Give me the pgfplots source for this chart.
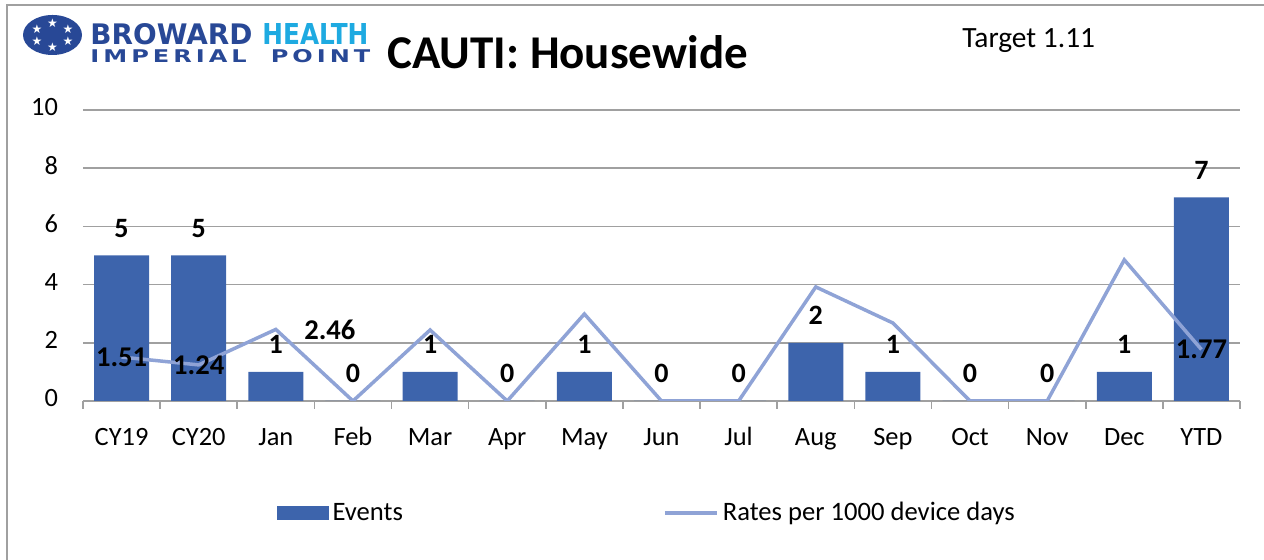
\documentclass[border=0pt]{standalone}
\usepackage{graphicx}
\usepackage{pgfplots}
\pgfplotsset{compat=1.18}
\usepackage{fontspec}
\setmainfont{Carlito}
\newfontfamily\dejavu{DejaVu Sans}
\definecolor{barblue}{RGB}{61,100,172}
\definecolor{lineblue}{RGB}{143,163,214}
\definecolor{logodark}{RGB}{40,72,150}
\definecolor{logolight}{RGB}{30,170,225}
\definecolor{gridgray}{RGB}{160,160,160}
\definecolor{framegray}{RGB}{160,160,160}

\begin{document}
\begin{tikzpicture}
\useasboundingbox (0,0) rectangle (632pt,280pt);
\draw[framegray, line width=1pt] (3.5pt,0pt) -- (3.5pt,277.5pt) -- (632pt,277.5pt);
% logo
\fill[logodark] (26.25pt,262.5pt) ellipse (14.75pt and 10pt);
\foreach \a in {30,90,...,330}
  \node[white, font=\dejavu\fontsize{6}{6}\selectfont, inner sep=0pt] at ([shift={(\a:9pt and 6pt)}]26.25pt,262.5pt) {★};
\node[anchor=south west, inner sep=0pt, text=logodark] at (45pt,257.5pt) {\resizebox{81pt}{10.5pt}{\dejavu\bfseries BROWARD}};
\node[anchor=south west, inner sep=0pt, text=logolight] at (131pt,257.5pt) {\resizebox{53pt}{10.5pt}{\dejavu\bfseries HEALTH}};
\node[anchor=south west, inner sep=0pt, text=logodark] at (45pt,248.5pt) {\resizebox{140pt}{6.5pt}{\dejavu\bfseries I\,M\,P\,E\,R\,I\,A\,L\quad P\,O\,I\,N\,T}};
% title
\node[anchor=base west, inner sep=0pt, font=\bfseries\fontsize{23.5}{28}\selectfont] at (193.5pt,245.5pt) {CAUTI: Housewide};
\node[anchor=base west, inner sep=0pt, font=\fontsize{14.7}{17}\selectfont] at (481pt,256pt) {Target 1.11};

\begin{axis}[
  at={(41.5pt,79.5pt)}, anchor=south west, scale only axis,
  width=578.5pt, height=145.5pt,
  xmin=-0.5, xmax=14.5, ymin=0, ymax=10,
  ytick={0,2,4,6,8,10},
  xtick={0,...,14},
  xticklabels={CY19,CY20,Jan,Feb,Mar,Apr,May,Jun,Jul,Aug,Sep,Oct,Nov,Dec,YTD},
  major tick length=0pt,
  extra x ticks={-0.5,0.5,...,14.5},
  extra x tick labels={},
  extra x tick style={major tick length=4pt, tick align=outside, major tick style={gridgray, line width=0.8pt}},
  ymajorgrids, major grid style={gridgray, line width=0.8pt},
  axis x line*=bottom, axis y line*=left,
  x axis line style={gridgray, line width=0.8pt, -},
  y axis line style={draw=none},
  tick label style={font=\fontsize{13.2}{15}\selectfont, black},
  typeset ticklabels with strut,
  /pgf/number format/assume math mode=true,
  yticklabel style={xshift=-9pt},
  xticklabel style={yshift=-8pt},
  legend style={at={(0.488,-0.385)}, anchor=center, draw=none, fill=none,
    font=\fontsize{13.3}{15}\selectfont, /tikz/column 2/.style={column sep=128pt}},
  legend columns=2,
]
\addplot[ybar, bar width=27.5pt, fill=barblue, draw=none,
  nodes near coords, point meta=explicit symbolic,
  nodes near coords style={font=\bfseries\fontsize{14}{16}\selectfont, black, yshift=5.5pt},
  legend image code/.code={\fill[barblue] (0pt,-3.5pt) rectangle (26pt,3.5pt);}]
  coordinates {(0,5)[5] (1,5)[5] (2,1)[1] (3,0)[0] (4,1)[1] (5,0)[0] (6,1)[1] (7,0)[0]
               (8,0)[0] (9,2)[2] (10,1)[1] (11,0)[0] (12,0)[0] (13,1)[1] (14,7)[7]};
\addlegendentry{Events}
\addplot[lineblue, line width=1.75pt, mark=none,
  legend image code/.code={\draw[lineblue, line width=2pt] (0pt,0pt) -- (26pt,0pt);}]
  coordinates {(0,1.51) (1,1.24) (2,2.46) (3,0) (4,2.44) (5,0) (6,2.99) (7,0)
               (8,0) (9,3.92) (10,2.68) (11,0) (12,0) (13,4.85) (14,1.77)};
\addlegendentry{Rates per 1000 device days}
\addplot[draw=none, forget plot, nodes near coords, point meta=explicit symbolic,
  nodes near coords style={font=\bfseries\fontsize{14.3}{16}\selectfont, black, anchor=center}]
  coordinates {(0,1.51)[1.51] (1,1.24)[1.24] (14,1.77)[1.77]};
\addplot[draw=none, forget plot, nodes near coords, point meta=explicit symbolic,
  nodes near coords style={font=\bfseries\fontsize{14.3}{16}\selectfont, black, anchor=center, xshift=27pt}]
  coordinates {(2,2.46)[2.46]};
\end{axis}
\end{tikzpicture}
\end{document}
